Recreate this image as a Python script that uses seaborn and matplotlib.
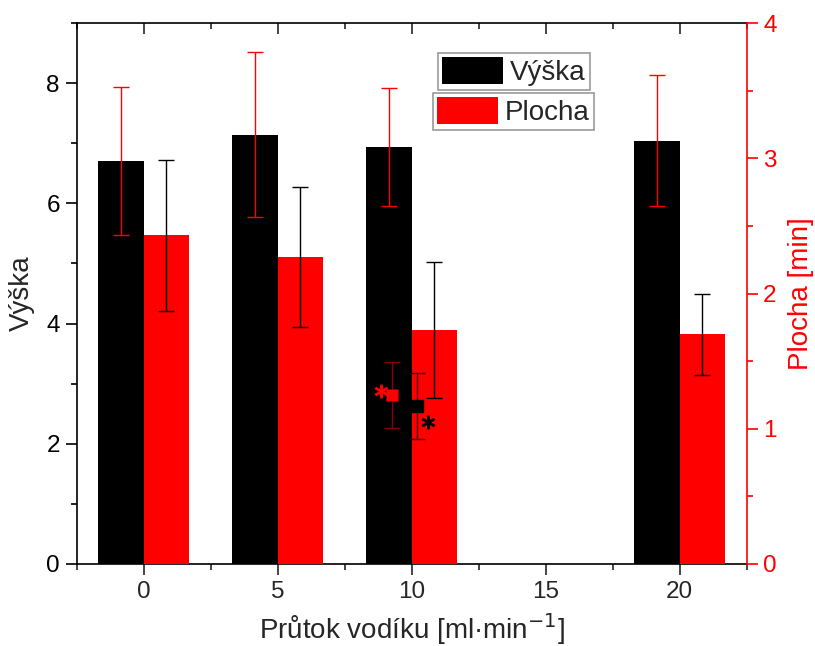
import matplotlib
matplotlib.use("Agg")
import matplotlib.pyplot as plt
import seaborn as sns
import numpy as np
import pandas as pd
from matplotlib.patches import Patch
from matplotlib.ticker import MultipleLocator

# ---- data ----
flow = [0, 5, 10, 20]
vyska = [6.70, 7.14, 6.94, 7.04]
vyska_err = [1.23, 1.37, 0.98, 1.09]
plocha = [2.43, 2.27, 1.73, 1.70]
plocha_err = [0.56, 0.52, 0.50, 0.30]
# single marked points
pt_plocha_x = [9.26]
pt_plocha_y = [1.25]
pt_plocha_err = [0.245]
pt_vyska_x = [10.19]
pt_vyska_y = [2.63]
pt_vyska_err = [0.55]
xticks = [0, 5, 10, 15, 20]

sns.set_theme(style="ticks")
plt.rcParams['font.family'] = ['Liberation Sans', 'DejaVu Sans']

fig = plt.figure(figsize=(8.15, 6.46), dpi=100)
ax = fig.add_axes([76.5/815, 82/646, 670/815, 541/646])
ax2 = ax.twinx()

off = 0.85
df_v = pd.DataFrame({"x": np.array(flow) - off, "y": vyska})
df_p = pd.DataFrame({"x": np.array(flow) + off, "y": plocha})

sns.barplot(data=df_v, x="x", y="y", native_scale=True, width=0.34,
            color="black", saturation=1, errorbar=None, ax=ax, linewidth=0)
ax.errorbar(df_v["x"], vyska, yerr=vyska_err, fmt="none", ecolor="red",
            elinewidth=1.0, capsize=6, capthick=1.0)

sns.barplot(data=df_p, x="x", y="y", native_scale=True, width=0.34,
            color="red", saturation=1, errorbar=None, ax=ax2, linewidth=0)
ax2.errorbar(df_p["x"], plocha, yerr=plocha_err, fmt="none", ecolor="black",
             elinewidth=1.0, capsize=6, capthick=1.0)

# marked points
ax2.errorbar(pt_plocha_x, pt_plocha_y, yerr=pt_plocha_err, fmt="none",
             ecolor="#8b0000", elinewidth=1.0, capsize=6, capthick=1.0)
sns.scatterplot(x=pt_plocha_x, y=pt_plocha_y, marker="s", s=80, color="red",
                edgecolor="#8b0000", linewidth=0.6, ax=ax2, zorder=5)
ax2.errorbar(pt_vyska_x, pt_vyska_y, yerr=pt_vyska_err, fmt="none",
             ecolor="#3a0000", elinewidth=1.0, capsize=6, capthick=1.0,
             transform=ax.transData)
ax2.scatter(pt_vyska_x, pt_vyska_y, marker="s", s=80, color="black",
            transform=ax.transData, zorder=5)
# asterisks
ax2.plot([pt_plocha_x[0] - 0.4], [pt_plocha_y[0] + 0.03], marker="$*$",
         ms=9, color="red", linestyle="none", zorder=6)
ax2.plot([pt_vyska_x[0] + 0.42], [pt_vyska_y[0] - 0.27], marker="$*$",
         ms=9, color="black", linestyle="none", zorder=6,
         transform=ax.transData)

# axes
ax.set_xlim(-2.5, 22.5)
ax.set_xticks(xticks)
ax.set_xticklabels([str(t) for t in xticks])
ax.xaxis.set_minor_locator(MultipleLocator(2.5))
ax.set_ylim(0, 9)
ax.yaxis.set_major_locator(MultipleLocator(2))
ax.yaxis.set_minor_locator(MultipleLocator(1))
ax2.set_ylim(0, 4)
ax2.yaxis.set_major_locator(MultipleLocator(1))
ax2.yaxis.set_minor_locator(MultipleLocator(0.5))

ax.set_xlabel("Průtok vodíku [ml·min$^{-1}$]", fontsize=20, labelpad=6)
ax.set_ylabel("Výška", fontsize=20, labelpad=8)
ax2.set_ylabel("Plocha [min]", fontsize=20, color="red", labelpad=8)

for a in (ax, ax2):
    a.spines["top"].set_visible(False)
    a.tick_params(which="major", direction="out", length=8, width=1.2,
                  labelsize=17.5, pad=4)
    a.tick_params(which="minor", direction="out", length=4.3, width=1.2)
ax.tick_params(axis="y", which="both", left=True, colors="black")
ax.tick_params(axis="x", which="both", bottom=True)
ax.spines["left"].set_color("black")
ax.spines["bottom"].set_color("black")
ax.spines["right"].set_visible(False)
ax2.spines["left"].set_visible(False)
ax2.spines["bottom"].set_visible(False)
ax2.spines["right"].set_color("red")
ax2.spines["right"].set_linewidth(1.2)
ax.spines["left"].set_linewidth(1.2)
ax.spines["bottom"].set_linewidth(1.2)
ax2.tick_params(axis="y", which="both", colors="red", right=True)
ax.grid(False)
ax2.grid(False)

# top axis with inward ticks, no labels
top = ax.secondary_xaxis("top")
top.set_xticks(xticks)
top.xaxis.set_minor_locator(MultipleLocator(2.5))
top.tick_params(which="major", direction="in", length=8, width=1.2,
                labeltop=False)
top.tick_params(which="minor", direction="in", length=4.3, width=1.2)
top.spines["top"].set_visible(True)
top.spines["top"].set_linewidth(1.2)
top.spines["top"].set_color("black")

# legends (two separate boxes)
leg_kw = dict(fontsize=20, frameon=True, fancybox=False, handlelength=2.2,
              handleheight=1.1, borderpad=0.15, handletextpad=0.25,
              borderaxespad=0, bbox_transform=fig.transFigure, loc="upper left")
leg1 = ax2.legend(handles=[Patch(facecolor="black", edgecolor="none", label="Výška")],
                  bbox_to_anchor=(438/815, 1 - 53/646), **leg_kw)
leg1.get_frame().set_edgecolor("gray")
leg1.get_frame().set_linewidth(1.2)
ax2.add_artist(leg1)
leg2 = ax2.legend(handles=[Patch(facecolor="red", edgecolor="none", label="Plocha")],
                  bbox_to_anchor=(433/815, 1 - 93/646), **leg_kw)
leg2.get_frame().set_edgecolor("gray")
leg2.get_frame().set_linewidth(1.2)

fig.savefig("out.png", dpi=100)
